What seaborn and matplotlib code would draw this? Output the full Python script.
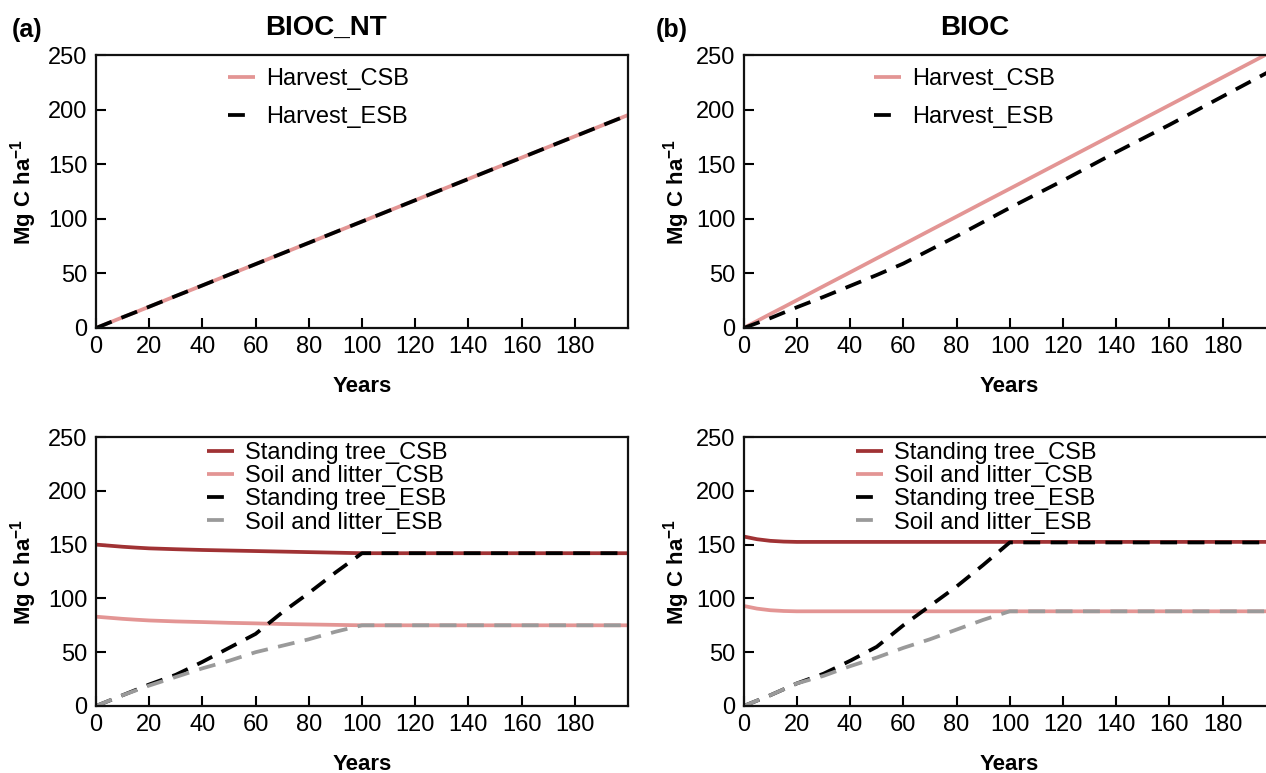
import matplotlib
matplotlib.use("Agg")
import matplotlib.pyplot as plt
import seaborn as sns

# ---------------- data ----------------
years = [0, 5, 10, 15, 20, 30, 40, 50, 60, 70, 80, 90, 100, 120, 140, 160, 180, 200]

# (a) BIOC_NT harvest
harvest_csb_a = [0, 4.9, 9.8, 14.6, 19.5, 29.3, 39, 48.8, 58.5, 68.3, 78, 87.8, 97.5, 117, 136.5, 156, 175.5, 195]
harvest_esb_a = [0, 4.9, 9.8, 14.6, 19.5, 29.3, 39, 48.8, 58.5, 68.3, 78, 87.8, 97.5, 117, 136.5, 156, 175.5, 195]
# (b) BIOC harvest
harvest_csb_b = [0, 6.4, 12.8, 19.1, 25.5, 38.3, 51, 63.8, 76.5, 89.3, 102, 114.8, 127.5, 153, 178.5, 204, 229.5, 255]
harvest_esb_b = [0, 4.5, 9, 14, 19, 28.5, 38.5, 48.5, 59, 71.5, 84, 97, 110, 135, 161, 186, 212, 238]

# (a) BIOC_NT pools
stand_csb_a = [150, 149, 148, 147.2, 146.5, 145.7, 145, 144.5, 144, 143.5, 143, 142.5, 142, 142, 142, 142, 142, 142]
soil_csb_a = [83, 82, 81, 80.2, 79.5, 78.6, 78, 77.3, 76.8, 76.2, 75.8, 75.4, 75, 75, 75, 75, 75, 75]
stand_esb_a = [0, 5, 10, 15, 20, 29, 41, 54, 67, 87, 105, 124, 142, 142, 142, 142, 142, 142]
soil_esb_a = [0, 5, 10, 14.5, 19, 27, 35, 42, 50, 56, 62, 69, 75, 75, 75, 75, 75, 75]

# (b) BIOC pools
stand_csb_b = [157.5, 155, 153.5, 152.8, 152.5, 152.5, 152.5, 152.5, 152.5, 152.5, 152.5, 152.5, 152.5, 152.5, 152.5, 152.5, 152.5, 152.5]
soil_csb_b = [93, 90.5, 89, 88.3, 88, 88, 88, 88, 88, 88, 88, 88, 88, 88, 88, 88, 88, 88]
stand_esb_b = [0, 5, 10, 15.5, 21, 30, 42, 55, 75, 93, 111, 131, 152, 152, 152, 152, 152, 152]
soil_esb_b = [0, 5, 10, 15.5, 21, 28, 37, 45, 54, 62, 71, 80, 88, 88, 88, 88, 88, 88]

x_ticks = [0, 20, 40, 60, 80, 100, 120, 140, 160, 180]
y_ticks = [0, 50, 100, 150, 200, 250]
titles = ["BIOC_NT", "BIOC"]
panel_tags = ["(a)", "(b)"]

# ---------------- style ----------------
sns.set_theme(style="ticks")
plt.rcParams["font.family"] = ["Liberation Sans", "DejaVu Sans"]
plt.rcParams["mathtext.fontset"] = "custom"
plt.rcParams["mathtext.rm"] = "Liberation Sans"
plt.rcParams["mathtext.bf"] = "Liberation Sans:bold"
for k in ["text.color", "axes.labelcolor", "xtick.color", "ytick.color", "axes.edgecolor"]:
    plt.rcParams[k] = "black"

DARK_RED = "#a03234"
PINK = "#e39594"
GREY = "#9a9a9a"
BLACK = "#000000"
LW = 2.7
DASH = (4.5, 2.8)

fig = plt.figure(figsize=(12.66, 7.73), dpi=100)
W, H = 1266, 773

def axes_at(left_px, top_px, right_px, bottom_px):
    return fig.add_axes([left_px / W, 1 - bottom_px / H, (right_px - left_px) / W, (bottom_px - top_px) / H])

ax_a_top = axes_at(96, 55, 628, 328)
ax_b_top = axes_at(743.7, 55, 1275.7, 328)
ax_a_bot = axes_at(96, 437, 628, 706)
ax_b_bot = axes_at(743.7, 437, 1275.7, 706)

def draw(ax, y, color, label, dashed):
    sns.lineplot(x=years, y=y, ax=ax, color=color, lw=LW, label=label, legend=False)
    line = ax.lines[-1]
    if dashed:
        line.set_dashes(DASH)
    line.set_solid_capstyle("butt")
    line.set_dash_capstyle("butt")

draw(ax_a_top, harvest_csb_a, PINK, "Harvest_CSB", False)
draw(ax_a_top, harvest_esb_a, BLACK, "Harvest_ESB", True)
draw(ax_b_top, harvest_csb_b, PINK, "Harvest_CSB", False)
draw(ax_b_top, harvest_esb_b, BLACK, "Harvest_ESB", True)

for ax, st_c, so_c, st_e, so_e in [
    (ax_a_bot, stand_csb_a, soil_csb_a, stand_esb_a, soil_esb_a),
    (ax_b_bot, stand_csb_b, soil_csb_b, stand_esb_b, soil_esb_b),
]:
    draw(ax, st_c, DARK_RED, "Standing tree_CSB", False)
    draw(ax, so_c, PINK, "Soil and litter_CSB", False)
    draw(ax, st_e, BLACK, "Standing tree_ESB", True)
    draw(ax, so_e, GREY, "Soil and litter_ESB", True)

ylabel = r"Mg C ha$^{\mathbf{-1}}$"
for ax, lx in [(ax_a_top, -0.107), (ax_b_top, -0.098), (ax_a_bot, -0.107), (ax_b_bot, -0.098)]:
    ax.set_xlim(0, 200)
    ax.set_ylim(0, 250)
    ax.set_xticks(x_ticks)
    ax.set_yticks(y_ticks)
    ax.tick_params(direction="in", length=7, width=1.5, labelsize=17, pad=6, colors="black")
    for s in ax.spines.values():
        s.set_linewidth(1.6)
        s.set_color("#111111")
    ax.set_xlabel("Years", fontsize=16, fontweight="bold", labelpad=13)
    ax.set_ylabel(ylabel, fontsize=16, fontweight="bold")
    ax.yaxis.set_label_coords(lx, 0.5)
    ax.grid(False)

leg_kw = dict(frameon=False, fontsize=17, borderpad=0, borderaxespad=0,
              handlelength=1.15, handletextpad=0.45, loc="upper left")
ax_a_top.legend(bbox_to_anchor=(0.248, 0.953), labelspacing=0.7, **leg_kw)
ax_b_top.legend(bbox_to_anchor=(0.245, 0.953), labelspacing=0.7, **leg_kw)
ax_a_bot.legend(bbox_to_anchor=(0.209, 0.981), labelspacing=0.05, **leg_kw)
ax_b_bot.legend(bbox_to_anchor=(0.211, 0.981), labelspacing=0.05, **leg_kw)

fig.text(326 / W, 1 - 28 / H, titles[0], fontsize=20, fontweight="bold", ha="center", va="center")
fig.text(975 / W, 1 - 28 / H, titles[1], fontsize=20, fontweight="bold", ha="center", va="center")
fig.text(12 / W, 1 - 30 / H, panel_tags[0], fontsize=18, fontweight="bold", ha="left", va="center")
fig.text(656 / W, 1 - 30 / H, panel_tags[1], fontsize=18, fontweight="bold", ha="left", va="center")

fig.savefig("out.png", dpi=100, facecolor="white")
